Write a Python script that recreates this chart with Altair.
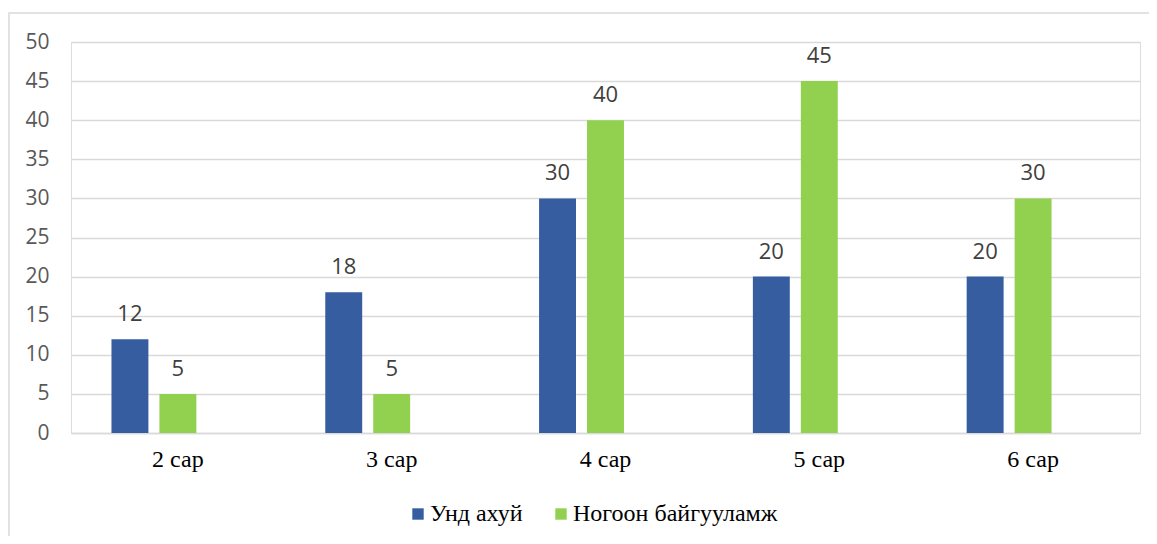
import altair as alt
import pandas as pd

months = ["2 сар", "3 сар", "4 сар", "5 сар", "6 сар"]
series_names = ["Унд ахуй", "Ногоон байгууламж"]
und_ahui = [12, 18, 30, 20, 20]
nogoon = [5, 5, 40, 45, 30]
colors = ["#355da0", "#92d050"]
offset_domain = series_names + ["_empty"]

rows = []
for m, a, b in zip(months, und_ahui, nogoon):
    rows.append({"month": m, "series": series_names[0], "value": a})
    rows.append({"month": m, "series": series_names[1], "value": b})
df = pd.DataFrame(rows)

W, H = 1069, 391

x_scale = alt.Scale(paddingInner=0.327, paddingOuter=0.1635)
xo_scale = alt.Scale(domain=offset_domain, paddingInner=0.23, paddingOuter=0.115)
y_scale = alt.Scale(domain=[0, 50])

x_enc = alt.X("month:N", sort=months, title=None, scale=x_scale,
              axis=alt.Axis(labelAngle=0, labelFont="Liberation Serif", labelFontSize=24,
                            labelColor="#000000", labelPadding=14, ticks=False, tickSize=0,
                            domainColor="#d9d9d9", domainWidth=1.3, grid=False))
y_enc = alt.Y("value:Q", title=None, scale=y_scale,
              axis=alt.Axis(values=list(range(0, 51, 5)), labelFont="Open Sans", labelFontSize=21,
                            labelColor="#595959", ticks=False, tickSize=0, labelPadding=22,
                            labelOverlap=False, domain=False, gridColor="#d9d9d9", gridWidth=1.3))

base = alt.Chart(df)

bars = base.mark_bar().encode(
    x=x_enc,
    xOffset=alt.XOffset("series:N", scale=xo_scale),
    y=y_enc,
    color=alt.Color("series:N", scale=alt.Scale(domain=series_names, range=colors),
                    legend=alt.Legend(title=None, orient="none", direction="horizontal",
                                      legendX=335, legendY=460, symbolType="square",
                                      symbolSize=130, symbolStrokeWidth=0, symbolOpacity=1,
                                      labelFont="Liberation Serif", labelFontSize=24, labelLimit=0,
                                      labelColor="#000000", labelOffset=0, columnPadding=26)),
)

labels = base.mark_text(baseline="alphabetic", dy=-18, font="Open Sans", fontSize=22,
                        color="#404040").encode(
    x=x_enc,
    xOffset=alt.XOffset("series:N", scale=xo_scale),
    y=y_enc,
    text="value:Q",
)

frame = alt.Chart(pd.DataFrame({"k": [0]})).mark_rect(fill=None, stroke="#d9d9d9", strokeWidth=1.5).encode(
    x=alt.value(-62), x2=alt.value(1300), y=alt.value(-29), y2=alt.value(700)
)

chart = alt.layer(frame, bars, labels).properties(
    width=W, height=H,
    autosize=alt.AutoSizeParams(type="none"),
    padding={"left": 63, "top": 34, "right": 9, "bottom": 103},
).configure_view(stroke=None).configure(background="white")

chart.save("out.html", embed_options={"renderer": "svg", "actions": False})
